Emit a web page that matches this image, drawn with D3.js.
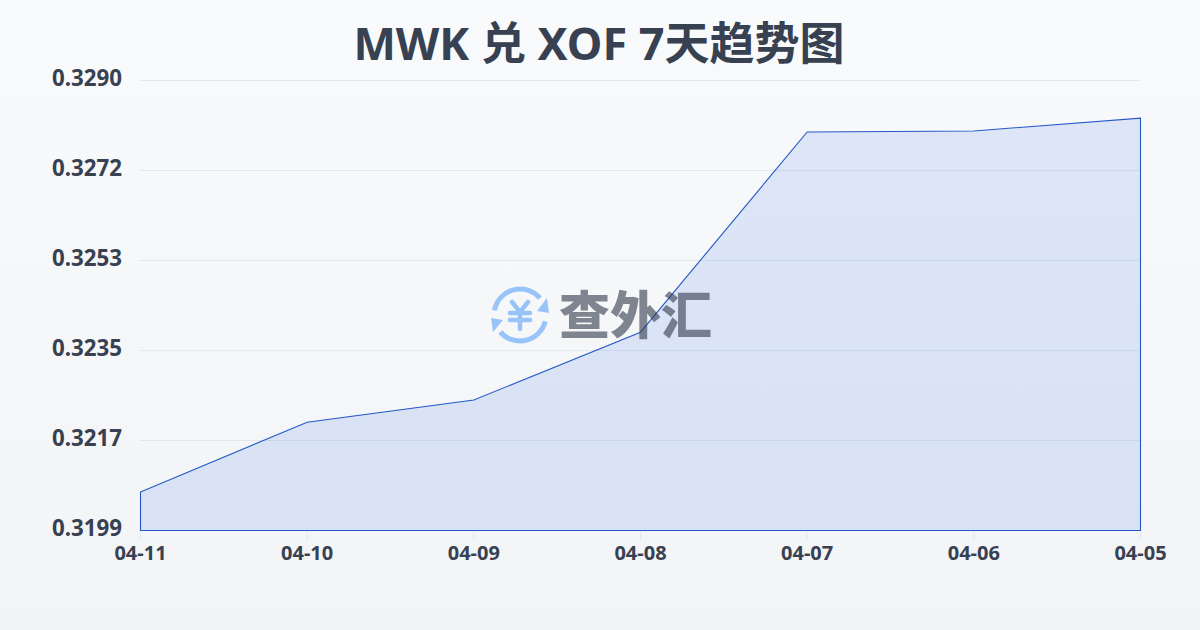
<!DOCTYPE html>
<html><head><meta charset="utf-8">
<script src="https://cdn.jsdelivr.net/npm/d3@7/dist/d3.min.js"></script>
<style>
html,body{margin:0;padding:0;width:1200px;height:630px;overflow:hidden}
svg{display:block}
text{font-family:"Noto Sans","Noto Sans CJK SC",sans-serif}
</style></head><body>
<svg id="c" width="1200" height="630"></svg>
<script>
const titleText = "MWK 兑 XOF 7天趋势图";
const dates = ["04-11","04-10","04-09","04-08","04-07","04-06","04-05"];
const rates = [0.32068,0.32209,0.32254,0.32391,0.32796,0.32798,0.32824];
const yTicks = [0.3199,0.32172,0.32354,0.32536,0.32718,0.329];
const yTickLabels = ["0.3199","0.3217","0.3235","0.3253","0.3272","0.3290"];
const watermark = "查外汇";

const svg = d3.select("#c");
const defs = svg.append("defs");
const bg = defs.append("linearGradient").attr("id","bg").attr("x1",0).attr("y1",0).attr("x2",0).attr("y2",1);
bg.append("stop").attr("offset",0).attr("stop-color","#f9fafb");
bg.append("stop").attr("offset",1).attr("stop-color","#f3f4f6");
svg.append("rect").attr("width",1200).attr("height",630).attr("fill","url(#bg)");

const x = d3.scalePoint().domain(dates).range([140.5,1140.5]);
const y = d3.scaleLinear().domain([0.3199,0.329]).range([530.5,80.5]);

svg.append("text").attr("x",599).attr("y",60).attr("text-anchor","middle")
  .attr("font-size",45).attr("font-weight",700).attr("fill","#374151").text(titleText);

svg.append("g").selectAll("line").data(yTicks).join("line")
  .attr("x1",140).attr("x2",1140)
  .attr("y1",d=>y(d)).attr("y2",d=>y(d))
  .attr("stroke","#e5e7eb").attr("stroke-width",1);

svg.append("g").selectAll("text").data(yTicks).join("text")
  .attr("x",122).attr("y",d=>y(d)-2).attr("dy","0.35em").attr("text-anchor","end")
  .attr("font-size",22.3).attr("font-weight",700).attr("fill","#374151")
  .text((d,i)=>yTickLabels[i]);

svg.append("g").selectAll("line").data(dates).join("line")
  .attr("x1",d=>x(d)).attr("x2",d=>x(d)).attr("y1",530.5).attr("y2",540)
  .attr("stroke","#e5e7eb");
svg.append("g").selectAll("text").data(dates).join("text")
  .attr("x",d=>x(d)).attr("y",560).attr("text-anchor","middle")
  .attr("font-size",20).attr("font-weight",700).attr("fill","#374151").text(d=>d);

const area = d3.area().x((d,i)=>x(dates[i])).y0(y(0.3199)).y1(d=>y(d));
svg.append("path").attr("d",area(rates)).attr("fill","#2563eb").attr("fill-opacity",0.13)
  .attr("stroke","#2559c8").attr("stroke-width",1.1);

const wm = svg.append("g").attr("opacity",0.62);
const ic = wm.append("g").attr("transform","translate(520,315)").attr("fill","none").attr("stroke","#60a5fa").attr("stroke-linecap","round");
ic.append("path").attr("d",d3.arc()({innerRadius:26,outerRadius:26,startAngle:-1.39,endAngle:0.87})).attr("stroke-width",5);
ic.append("path").attr("d",d3.arc()({innerRadius:26,outerRadius:26,startAngle:1.82,endAngle:4.0})).attr("stroke-width",5);
ic.append("path").attr("d","M27 -17 L29 -2 L17 -4 Z").attr("fill","#60a5fa").attr("stroke","none");
ic.append("path").attr("d","M-29 3 L-17 5 L-27 17 Z").attr("fill","#60a5fa").attr("stroke","none");
ic.append("path").attr("d","M-8 -13 L0 -3 L8 -13 M0 -3 V14 M-10 -2 H10 M-10 5 H10").attr("stroke-width",4.5);
wm.append("text").attr("x",559).attr("y",334).attr("font-size",51).attr("font-weight",900)
  .attr("font-family","'Noto Sans CJK SC',sans-serif").attr("fill","#374151").text(watermark);
</script>
</body></html>
